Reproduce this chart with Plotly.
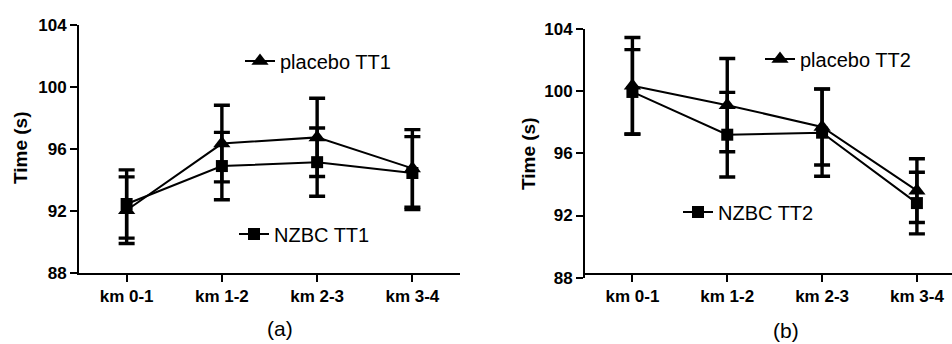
import plotly.graph_objects as go

categories = ["km 0-1", "km 1-2", "km 2-3", "km 3-4"]
y_ticks = [88, 92, 96, 100, 104]

placebo_tt1 = [92.05, 96.35, 96.75, 94.75]
placebo_tt1_sd = [2.15, 2.47, 2.52, 2.5]
nzbc_tt1 = [92.45, 94.9, 95.15, 94.45]
nzbc_tt1_sd = [2.2, 2.17, 2.2, 2.35]

placebo_tt2 = [100.35, 99.1, 97.7, 93.6]
placebo_tt2_sd = [3.1, 3.0, 2.45, 2.05]
nzbc_tt2 = [99.95, 97.2, 97.33, 92.8]
nzbc_tt2_sd = [2.72, 2.72, 2.8, 1.98]

FONT = "Liberation Sans, Arial, sans-serif"
W, H = 952, 344

fig = go.Figure()

def add(name, vals, sd, sym, size, xa, ya, leg):
    fig.add_trace(go.Scatter(
        x=categories, y=vals, name=name, mode="lines+markers",
        xaxis=xa, yaxis=ya, legend=leg,
        line=dict(color="black", width=2),
        marker=dict(symbol=sym, size=size, color="black"),
        error_y=dict(type="data", array=sd, visible=True, color="black",
                     thickness=3.4, width=8),
        cliponaxis=False,
    ))

add("placebo TT1", placebo_tt1, placebo_tt1_sd, "triangle-up", 15, "x", "y", "legend")
add("NZBC TT1", nzbc_tt1, nzbc_tt1_sd, "square", 12, "x", "y", "legend2")
add("placebo TT2", placebo_tt2, placebo_tt2_sd, "triangle-up", 15, "x2", "y2", "legend3")
add("NZBC TT2", nzbc_tt2, nzbc_tt2_sd, "square", 12, "x2", "y2", "legend4")

tickfont = dict(family=FONT, size=17, color="black", weight="bold")

def xaxis(domain, rng):
    return dict(domain=domain, type="category", range=rng, showline=True,
                linecolor="black", linewidth=2, ticks="outside", ticklen=7,
                tickwidth=2, tickcolor="black", showgrid=False, zeroline=False,
                tickfont=tickfont, automargin=False)

def yaxis(domain, xa):
    return dict(domain=domain, anchor=xa, range=[88, 104], tickvals=y_ticks,
                showline=True, linecolor="black", linewidth=2, ticks="outside",
                ticklen=7, tickwidth=2, tickcolor="black", showgrid=False,
                zeroline=False, tickfont=tickfont, automargin=False)

def leg(px, py):
    return dict(x=px / W, y=1 - py / H, xanchor="left", yanchor="middle",
                font=dict(family=FONT, size=20, color="black"),
                bgcolor="rgba(0,0,0,0)", borderwidth=0, itemwidth=30)

def ann(text, px, py, size, bold=False, angle=0):
    f = dict(family=FONT, size=size, color="black")
    if bold:
        f["weight"] = "bold"
    return dict(text=text, x=px / W, y=1 - py / H, xref="paper", yref="paper",
                xanchor="center", yanchor="middle", textangle=angle,
                showarrow=False, font=f)

fig.update_layout(
    width=W, height=H,
    margin=dict(l=0, r=0, t=0, b=0, autoexpand=False),
    paper_bgcolor="white", plot_bgcolor="white",
    showlegend=True,
    xaxis=xaxis([79 / W, 460 / W], [-0.5, 3.5]),
    yaxis=yaxis([1 - 273 / H, 1 - 25 / H], "x"),
    xaxis2=xaxis([585 / W, 1.0], [-0.5, 3.37]),
    yaxis2=yaxis([1 - 277.7 / H, 1 - 29 / H], "x2"),
    legend=leg(240, 61),
    legend2=leg(234, 234),
    legend3=leg(760, 59),
    legend4=leg(678, 212),
    annotations=[
        ann("Time (s)", 20, 148, 19, bold=True, angle=-90),
        ann("Time (s)", 528, 154, 19, bold=True, angle=-90),
        ann("(a)", 280, 328, 21),
        ann("(b)", 786, 330, 21),
    ],
)

fig.write_html("out.html", config={"displayModeBar": False},
               post_script="document.body.style.margin='0';document.body.style.overflow='hidden';")
